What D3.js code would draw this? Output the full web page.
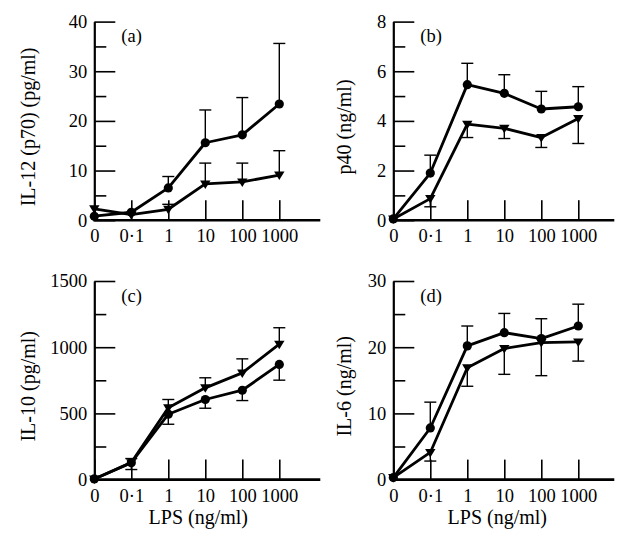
<!DOCTYPE html>
<html><head><meta charset="utf-8">
<script src="https://cdn.jsdelivr.net/npm/d3@7"></script>
<style>
html,body{margin:0;padding:0;background:#fff;}
text{font-family:"Liberation Serif","Times New Roman",serif;fill:#000;}
</style></head>
<body><svg id="c" width="622" height="546"></svg>
<script>
const categories = ["0", "0·1", "1", "10", "100", "1000"];

// (a) IL-12 (p70)
const il12Circle = [0.8, 1.6, 6.5, 15.6, 17.2, 23.4];
const il12CircleSd = [0, 0, 2.3, 6.6, 7.5, 12.2];
const il12Tri = [2.3, 1.1, 2.2, 7.3, 7.7, 9.1];
const il12TriSd = [0, 0, 1.0, 4.2, 3.8, 4.9];
const il12Major = [0, 10, 20, 30, 40];
const il12Minor = [5, 15, 25, 35];

// (b) p40
const p40Circle = [0.05, 1.9, 5.46, 5.11, 4.48, 4.57];
const p40CircleSd = [0, 0.72, 0.86, 0.75, 0.71, 0.81];
const p40Tri = [0.05, 0.87, 3.87, 3.70, 3.33, 4.1];
const p40TriSd = [0, 0.33, 0.54, 0.41, 0.40, 1.01];
const p40Major = [0, 2, 4, 6, 8];
const p40Minor = [1, 3, 5, 7];

// (c) IL-10
const il10Circle = [5, 128, 494, 605, 675, 870];
const il10CircleSd = [0, 52, 76, 66, 78, 119];
const il10Tri = [5, 128, 542, 693, 806, 1023];
const il10TriSd = [0, 31, 63, 76, 106, 124];
const il10Major = [0, 500, 1000, 1500];
const il10Minor = [250, 750, 1250];

// (d) IL-6
const il6Circle = [0.3, 7.8, 20.2, 22.2, 21.3, 23.2];
const il6CircleSd = [0, 3.9, 3.0, 2.9, 3.0, 3.3];
const il6Tri = [0.3, 4.1, 16.9, 19.8, 20.7, 20.8];
const il6TriSd = [0, 1.3, 2.8, 3.9, 5.0, 2.9];
const il6Major = [0, 10, 20, 30];
const il6Minor = [5, 15, 25];

const panels = [
  {x: 94.3, y: 21.6, yTitle: "IL-12 (p70) (pg/ml)", label: "(a)", max: 40, major: il12Major, minor: il12Minor,
   circle: il12Circle, circleSd: il12CircleSd, circleDir: 1, tri: il12Tri, triSd: il12TriSd, triDir: 1, axisLen: 226, xTitle: false, titleX: 35},
  {x: 393.3, y: 21.6, yTitle: "p40 (ng/ml)", label: "(b)", max: 8, major: p40Major, minor: p40Minor,
   circle: p40Circle, circleSd: p40CircleSd, circleDir: 1, tri: p40Tri, triSd: p40TriSd, triDir: -1, axisLen: 221, xTitle: false, titleX: 351},
  {x: 94.3, y: 281, yTitle: "IL-10 (pg/ml)", label: "(c)", max: 1500, major: il10Major, minor: il10Minor,
   circle: il10Circle, circleSd: il10CircleSd, circleDir: -1, tri: il10Tri, triSd: il10TriSd, triDir: 1, axisLen: 226, xTitle: true, titleX: 35},
  {x: 393.3, y: 281, yTitle: "IL-6 (ng/ml)", label: "(d)", max: 30, major: il6Major, minor: il6Minor,
   circle: il6Circle, circleSd: il6CircleSd, circleDir: 1, tri: il6Tri, triSd: il6TriSd, triDir: -1, axisLen: 221, xTitle: true, titleX: 351}
];

const H = 198.6, W = 185;
const svg = d3.select("#c");

panels.forEach(p => {
  const g = svg.append("g").attr("transform", `translate(${p.x},${p.y})`);
  const x = d3.scalePoint().domain(categories).range([0, W]);
  const y = d3.scaleLinear().domain([0, p.max]).range([H, 0]);

  // minor y ticks
  g.append("g").call(d3.axisLeft(y).tickValues(p.minor).tickSize(-12).tickFormat(""))
    .call(s => s.select(".domain").remove())
    .call(s => s.selectAll("line").attr("stroke-width", 1.6));
  // major y ticks
  const ya = g.append("g").call(d3.axisLeft(y).tickValues(p.major).tickSize(-21).tickSizeOuter(0).tickPadding(7).tickFormat(d3.format("d")));
  ya.select(".domain").attr("stroke-width", 2.2);
  ya.selectAll("line").attr("stroke-width", 1.6);
  ya.selectAll("text").attr("font-size", 18.5).attr("font-family", "Liberation Serif");

  // x axis
  const xa = g.append("g").attr("transform", `translate(0,${H})`)
    .call(d3.axisBottom(x).tickSize(-20).tickPadding(9));
  xa.select(".domain").remove();
  xa.selectAll("line").attr("stroke-width", 1.6);
  xa.selectAll("text").attr("font-size", 18.5).attr("font-family", "Liberation Serif");
  g.append("line").attr("x1", -1).attr("x2", p.axisLen).attr("y1", H).attr("y2", H)
    .attr("stroke", "#000").attr("stroke-width", 2.6);

  // y title
  g.append("text").attr("transform", `translate(${p.titleX - p.x},${H / 2 + 6}) rotate(-90)`)
    .attr("text-anchor", "middle").attr("font-size", 20).text(p.yTitle);
  // panel label
  g.append("text").attr("x", 27).attr("y", 20.5).attr("font-size", 18.5).text(p.label);
  if (p.xTitle) {
    g.append("text").attr("x", 104).attr("y", H + 44).attr("text-anchor", "middle")
      .attr("font-size", 20).text("LPS (ng/ml)");
  }

  const series = [
    {v: p.circle, sd: p.circleSd, dir: p.circleDir, shape: "c"},
    {v: p.tri, sd: p.triSd, dir: p.triDir, shape: "t"}
  ];
  // error bars
  series.forEach(s => {
    const eb = g.append("g").attr("stroke", "#000").attr("stroke-width", 1.4);
    categories.forEach((c, i) => {
      if (!s.sd[i]) return;
      const y1 = y(s.v[i]), y2 = y(s.v[i] + s.dir * s.sd[i]);
      eb.append("line").attr("x1", x(c)).attr("x2", x(c)).attr("y1", y1).attr("y2", y2);
      eb.append("line").attr("x1", x(c) - 6).attr("x2", x(c) + 6).attr("y1", y2).attr("y2", y2);
    });
  });
  // lines
  const line = d3.line().x((d, i) => x(categories[i])).y(d => y(d));
  series.forEach(s => {
    g.append("path").attr("d", line(s.v)).attr("fill", "none").attr("stroke", "#000")
      .attr("stroke-width", 2.8).attr("stroke-linejoin", "round");
  });
  // markers
  series.forEach(s => {
    s.v.forEach((d, i) => {
      const cx = x(categories[i]), cy = y(d);
      if (s.shape === "c") {
        g.append("circle").attr("cx", cx).attr("cy", cy).attr("r", 4.6).attr("fill", "#000");
      } else {
        g.append("path").attr("d", `M${cx - 5.2},${cy - 3.5}L${cx + 5.2},${cy - 3.5}L${cx},${cy + 5}Z`).attr("fill", "#000");
      }
    });
  });
});
</script></body></html>
